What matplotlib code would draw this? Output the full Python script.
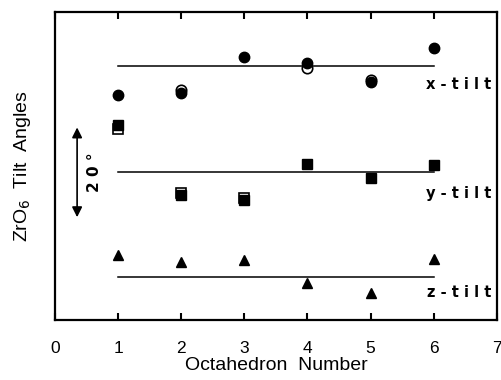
import numpy as np
import matplotlib.pyplot as plt

plt.rcParams['font.family'] = ['Liberation Sans', 'DejaVu Sans']

# octahedron numbers
octa = [1, 2, 3, 4, 5, 6]

# tilt angles (degrees, arbitrary offset per series); nan = open symbol hidden
x_tilt = [50.7, 51.1, 59.3, 58.0, 53.6, 61.4]
x_tilt_open = [np.nan, 51.7, np.nan, 56.9, 54.1, np.nan]
x_mean = 57.3

y_tilt = [43.9, 28.0, 26.8, 35.0, 31.8, 34.8]
y_tilt_open = [43.0, 28.4, 27.3, np.nan, np.nan, np.nan]
y_mean = 33.2

z_tilt = [14.3, 12.7, 13.2, 8.0, 5.7, 13.4]
z_mean = 9.3

fig = plt.figure(figsize=(5.02, 3.8), dpi=100)
ax = fig.add_axes([0.1096, 0.158, 0.880, 0.810])

# mean lines
for m in [x_mean, y_mean, z_mean]:
    ax.plot([octa[0], octa[-1]], [m, m], color='black', lw=1.1)

# open symbols under filled ones
ax.plot(octa, x_tilt_open, 'o', ms=7.5, mfc='white', mec='black', mew=1.2, ls='none')
ax.plot(octa, x_tilt, 'o', ms=7.5, color='black', ls='none')
ax.plot(octa, y_tilt_open, 's', ms=7, mfc='white', mec='black', mew=1.2, ls='none')
ax.plot(octa, y_tilt, 's', ms=7, color='black', ls='none')
ax.plot(octa, z_tilt, '^', ms=7.5, color='black', ls='none')

# series labels
lab_kw = dict(fontsize=10.5, fontweight='bold', ha='right', va='center', family='DejaVu Sans')
ax.text(6.92, 53.0, 'x - t i l t', **lab_kw)
ax.text(6.92, 28.4, 'y - t i l t', **lab_kw)
ax.text(6.92, 5.9, 'z - t i l t', **lab_kw)

# 20 degree scale arrow
ax.annotate('', xy=(0.35, 22.9), xytext=(0.35, 43.3),
            arrowprops=dict(arrowstyle='<|-|>', color='black', lw=1.2,
                            mutation_scale=15, shrinkA=0, shrinkB=0))
ax.text(0.63, 33.2, '2 0 °', rotation=90, fontsize=11, fontweight='bold',
        ha='center', va='center', family='DejaVu Sans')

ax.set_xlim(0, 7)
ax.set_ylim(-0.45, 69.5)
ax.set_xticks(range(0, 8))
ax.set_yticks([])
ax.tick_params(axis='x', direction='in', top=True, length=5, width=1.5,
               labelsize=12.5, pad=15)
for s in ax.spines.values():
    s.set_linewidth(1.6)

ax.set_xlabel('Octahedron  Number', fontsize=14, labelpad=1)
ax.set_ylabel('ZrO$_6$  Tilt  Angles', fontsize=14, labelpad=16)

fig.savefig('out.png', dpi=100)
